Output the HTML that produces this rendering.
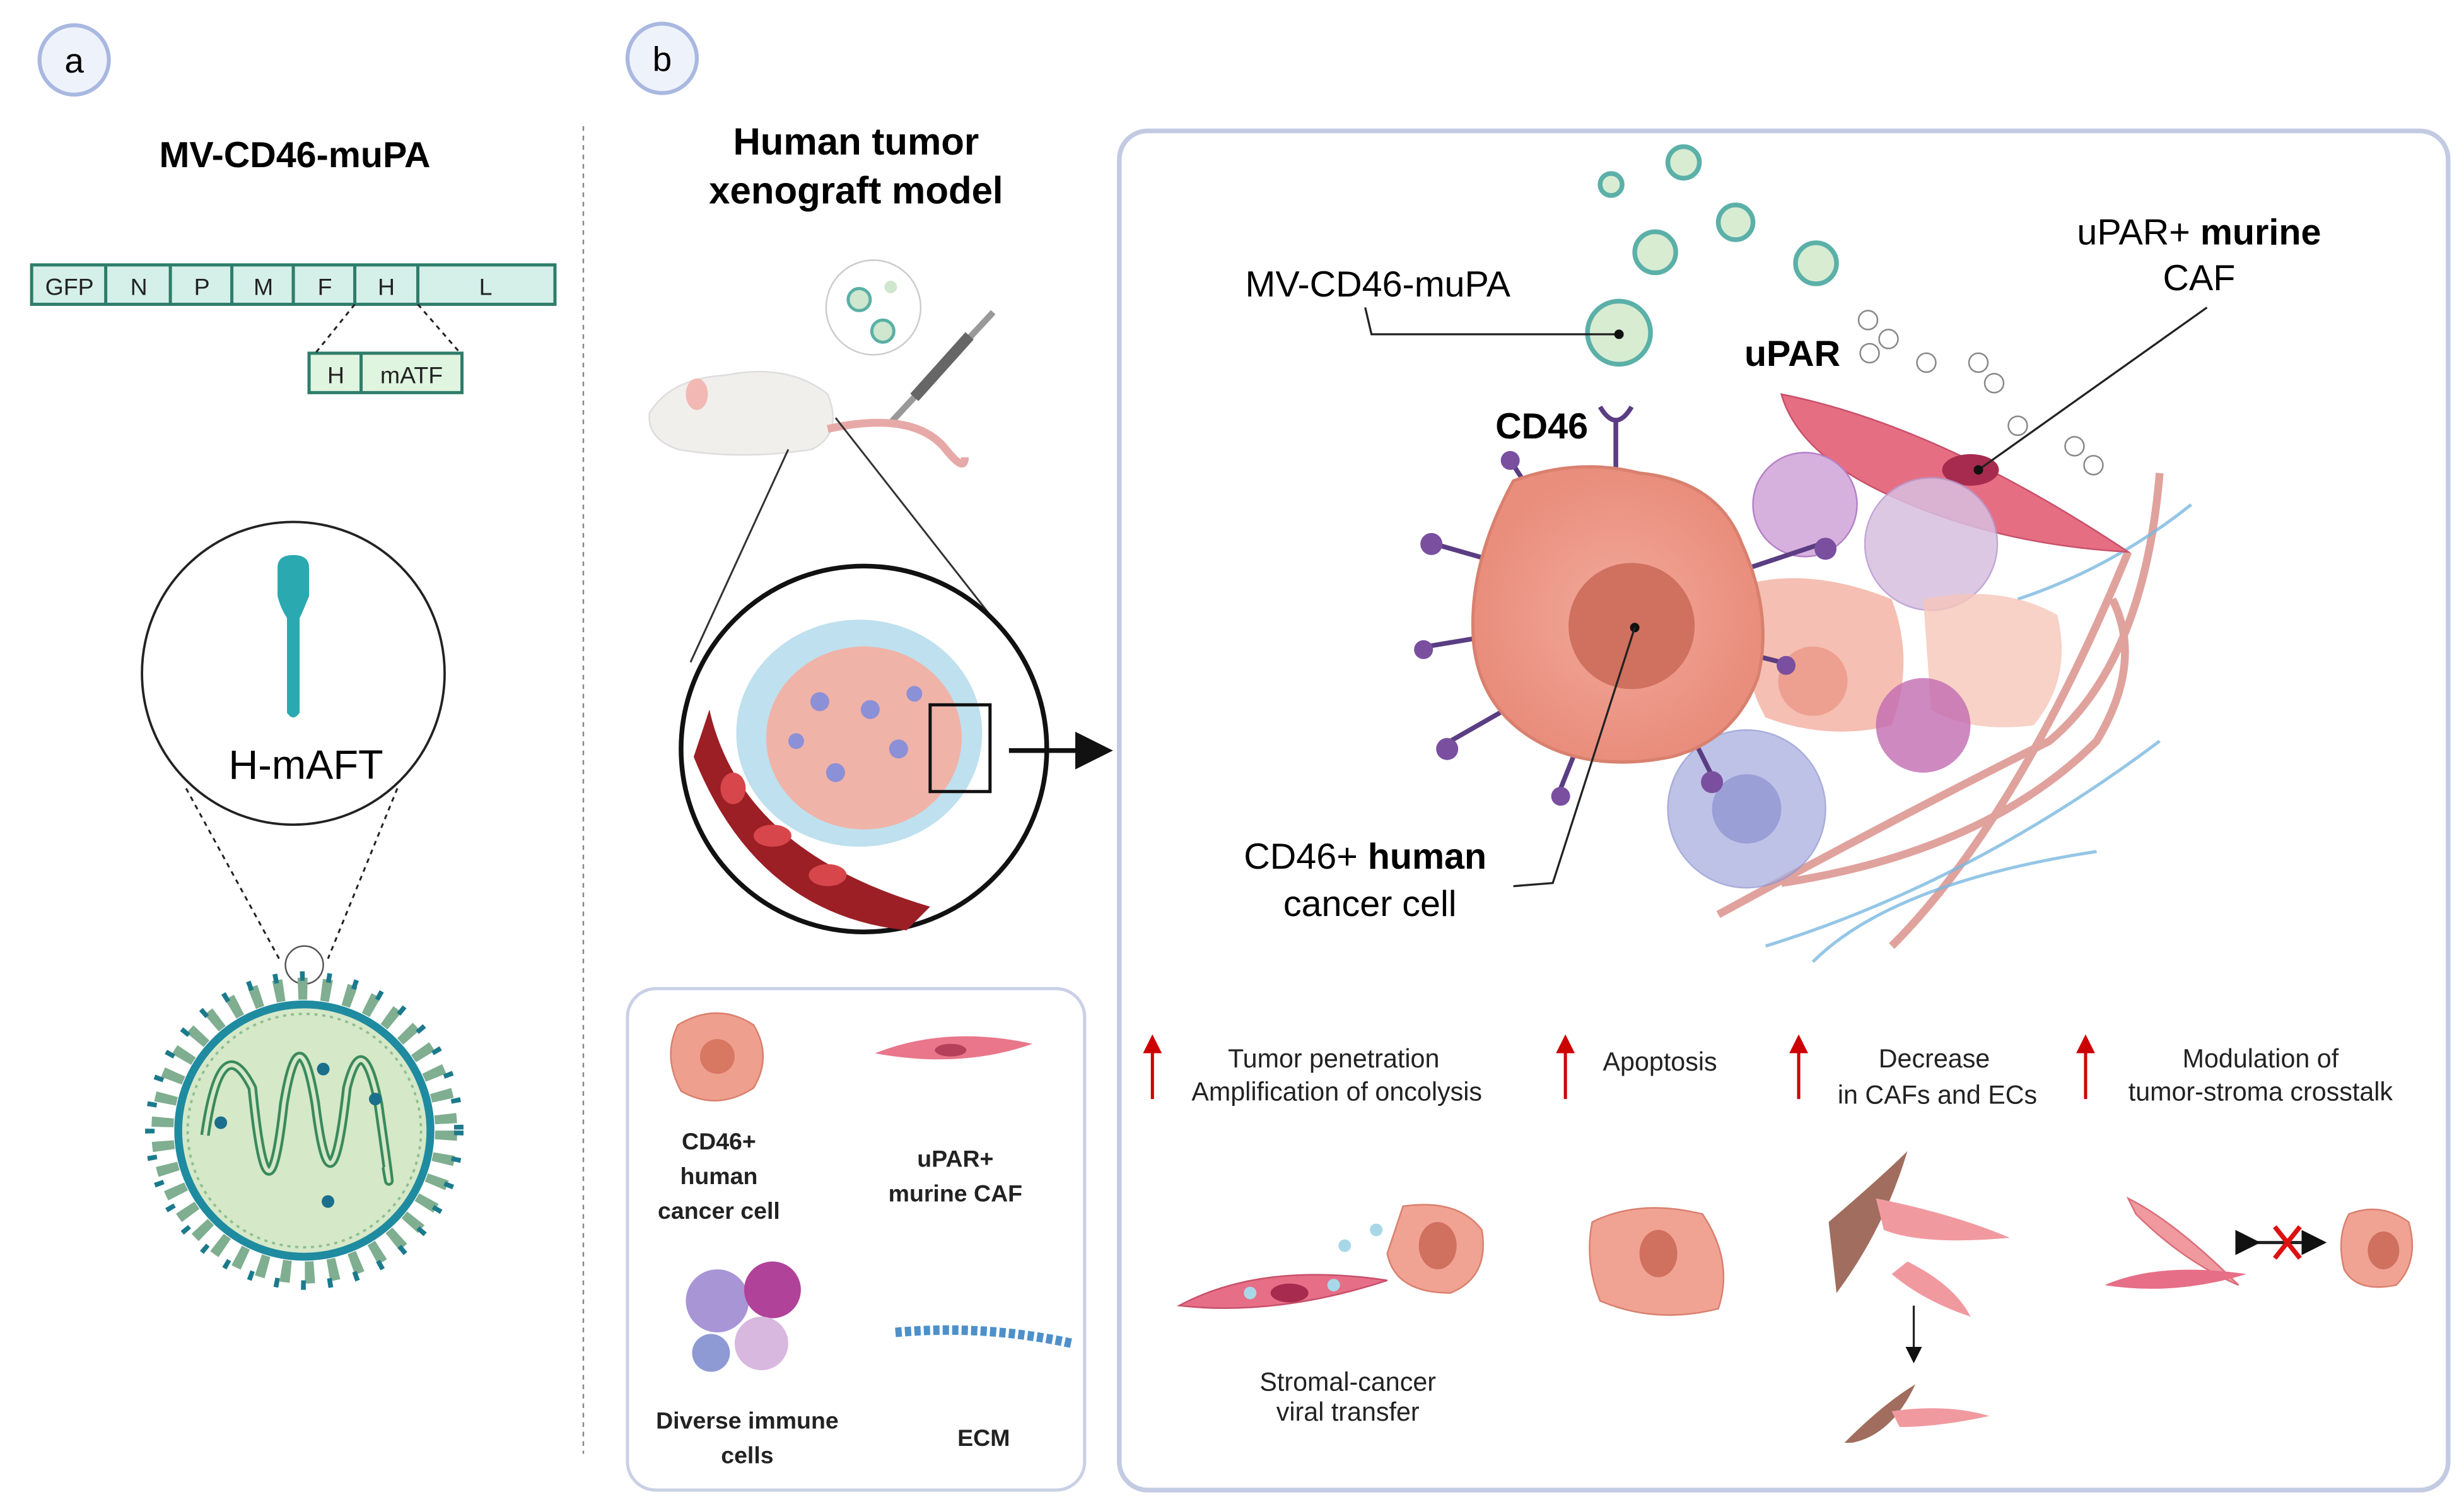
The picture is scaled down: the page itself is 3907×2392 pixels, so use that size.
<!DOCTYPE html>
<html><head><meta charset="utf-8"><style>
html,body{margin:0;padding:0;background:#fff;}
svg{display:block;}
text{font-family:"Liberation Sans",sans-serif;}
</style></head><body>
<svg width="3907" height="2392" viewBox="0 0 1563 957" xmlns="http://www.w3.org/2000/svg">
<defs>
<radialGradient id="cell" cx="50%" cy="50%" r="50%"><stop offset="0" stop-color="#f2a99a"/><stop offset="1" stop-color="#e98d7c"/></radialGradient>
<marker id="ah" markerWidth="8" markerHeight="8" refX="6" refY="4" orient="auto"><path d="M0,0 L8,4 L0,8z" fill="#111"/></marker>
<marker id="rh" markerWidth="6" markerHeight="6" refX="3" refY="3" orient="auto"><path d="M0,0 L6,3 L0,6z" fill="#c00"/></marker>
</defs>
<circle cx="47" cy="38" r="22" fill="#eef2fb" stroke="#a9b8e0" stroke-width="2.5"/>
<text x="47" y="46" font-size="22" text-anchor="middle">a</text>
<circle cx="420" cy="37" r="22" fill="#eef2fb" stroke="#a9b8e0" stroke-width="2.5"/>
<text x="420" y="45" font-size="22" text-anchor="middle">b</text>
<text x="187" y="106" font-size="23" font-weight="bold" text-anchor="middle">MV-CD46-muPA</text>
<g stroke="#2e7d6a" stroke-width="2" fill="#d5efe9">
<rect x="20" y="168" width="332" height="25"/>
<line x1="67" y1="168" x2="67" y2="193"/><line x1="108" y1="168" x2="108" y2="193"/><line x1="147" y1="168" x2="147" y2="193"/><line x1="186" y1="168" x2="186" y2="193"/><line x1="225" y1="168" x2="225" y2="193"/><line x1="265" y1="168" x2="265" y2="193"/>
<rect x="196" y="224" width="97" height="25" fill="#e0f5e0"/><line x1="229" y1="224" x2="229" y2="249"/>
</g>
<g font-size="15" text-anchor="middle" fill="#222">
<text x="44" y="187">GFP</text><text x="88" y="187">N</text><text x="128" y="187">P</text><text x="167" y="187">M</text><text x="206" y="187">F</text><text x="245" y="187">H</text><text x="308" y="187">L</text>
<text x="213" y="243">H</text><text x="261" y="243">mATF</text>
</g>
<g stroke="#222" stroke-dasharray="3,3" stroke-width="1.2" fill="none">
<line x1="225" y1="193" x2="200" y2="224"/><line x1="265" y1="193" x2="292" y2="224"/>
<line x1="118" y1="500" x2="177" y2="608"/><line x1="252" y1="500" x2="208" y2="608"/>
</g>
<circle cx="186" cy="427" r="96" fill="#fff" stroke="#222" stroke-width="1.5"/>
<path d="M176,360 Q176,352 186,352 Q196,352 196,360 L196,378 Q192,388 190,392 L190,452 Q186,458 182,452 L182,392 Q178,386 176,378z" fill="#2aa9b0"/>
<text x="194" y="494" font-size="26" text-anchor="middle">H-mAFT</text>
<circle cx="193" cy="612" r="12" fill="none" stroke="#555" stroke-width="1"/>
<g>
<circle cx="193" cy="717" r="90" fill="none" stroke="#7fae90" stroke-width="14" stroke-dasharray="6,9"/>
<circle cx="193" cy="717" r="98" fill="none" stroke="#1b7a8c" stroke-width="6" stroke-dasharray="3,14"/>
<circle cx="193" cy="717" r="80" fill="#d5e8c8" stroke="#1f8ba0" stroke-width="5"/>
<circle cx="193" cy="717" r="74" fill="none" stroke="#8fbf8f" stroke-width="1.5" stroke-dasharray="2,3"/>
<path d="M130,720 Q140,650 160,690 Q170,790 180,700 Q190,640 200,700 Q210,780 220,690 Q230,650 240,700 Q250,770 245,740" fill="none" stroke="#3a8a5c" stroke-width="6"/>
<path d="M130,720 Q140,650 160,690 Q170,790 180,700 Q190,640 200,700 Q210,780 220,690 Q230,650 240,700 Q250,770 245,740" fill="none" stroke="#d5e8c8" stroke-width="2.5"/>
<circle cx="205" cy="678" r="4" fill="#1b6f8c"/><circle cx="238" cy="697" r="4" fill="#1b6f8c"/><circle cx="208" cy="762" r="4" fill="#1b6f8c"/><circle cx="140" cy="712" r="4" fill="#1b6f8c"/>
</g>
<line x1="370" y1="80" x2="370" y2="922" stroke="#888" stroke-dasharray="3,3" stroke-width="1"/>
<text x="543" y="98" font-size="24" font-weight="bold" text-anchor="middle">Human tumor</text>
<text x="543" y="129" font-size="24" font-weight="bold" text-anchor="middle">xenograft model</text>
<circle cx="554" cy="195" r="30" fill="#fff" stroke="#ccc"/>
<circle cx="545" cy="190" r="7" fill="#cfe6cf" stroke="#5ab0a5" stroke-width="2"/><circle cx="560" cy="210" r="7" fill="#cfe6cf" stroke="#5ab0a5" stroke-width="2"/><circle cx="565" cy="182" r="4" fill="#cfe6cf"/>
<line x1="630" y1="198" x2="565" y2="268" stroke="#999" stroke-width="4"/>
<line x1="615" y1="213" x2="580" y2="252" stroke="#666" stroke-width="7"/>
<path d="M412,262 Q425,240 460,238 Q500,230 525,250 Q535,275 515,285 Q470,292 430,285 Q410,278 412,262z" fill="#f1efec" stroke="#ddd"/>
<ellipse cx="442" cy="250" rx="7" ry="10" fill="#f2b8b4"/>
<path d="M525,272 Q580,260 600,285 Q612,300 612,290" fill="none" stroke="#e7a9a7" stroke-width="5"/>
<line x1="500" y1="285" x2="438" y2="420" stroke="#333" stroke-width="1.2"/>
<line x1="530" y1="265" x2="628" y2="390" stroke="#333" stroke-width="1.2"/>
<circle cx="548" cy="475" r="116" fill="#fff" stroke="#111" stroke-width="3"/>
<ellipse cx="545" cy="465" rx="78" ry="72" fill="#bfe0ee"/>
<ellipse cx="548" cy="468" rx="62" ry="58" fill="#f0b3a8"/>
<g fill="#8c90d6"><circle cx="520" cy="445" r="6"/><circle cx="552" cy="450" r="6"/><circle cx="570" cy="475" r="6"/><circle cx="530" cy="490" r="6"/><circle cx="505" cy="470" r="5"/><circle cx="580" cy="440" r="5"/></g>
<path d="M450,450 Q470,540 590,575 L575,590 Q480,580 440,480z" fill="#9b1f25"/>
<g fill="#d6464a"><ellipse cx="490" cy="530" rx="12" ry="7"/><ellipse cx="525" cy="555" rx="12" ry="7"/><ellipse cx="465" cy="500" rx="8" ry="10"/></g>
<rect x="590" y="447" width="38" height="55" fill="none" stroke="#111" stroke-width="2"/>
<line x1="640" y1="476" x2="700" y2="476" stroke="#111" stroke-width="3" marker-end="url(#ah)"/>
<rect x="398" y="627" width="290" height="318" rx="18" fill="#fff" stroke="#c9d0e6" stroke-width="2"/>
<path d="M430,650 Q455,635 478,650 Q490,670 478,690 Q455,705 432,692 Q420,670 430,650z" fill="#ef9f8e" stroke="#d9806f"/>
<circle cx="455" cy="670" r="11" fill="#d87762"/>
<path d="M555,668 Q600,650 655,662 Q610,678 555,668z" fill="#e9768a"/>
<ellipse cx="603" cy="666" rx="10" ry="4" fill="#b4405a"/>
<circle cx="455" cy="825" r="20" fill="#a895d6"/><circle cx="490" cy="818" r="18" fill="#b0429a"/><circle cx="483" cy="852" r="17" fill="#d8b8de"/><circle cx="451" cy="858" r="12" fill="#8e9ad4"/>
<path d="M568,845 Q625,840 680,852" stroke="#4e90c9" stroke-width="6" fill="none" stroke-dasharray="4,2"/>
<g font-size="15" font-weight="bold" text-anchor="middle" fill="#222">
<text x="456" y="729">CD46+</text><text x="456" y="751">human</text><text x="456" y="773">cancer cell</text>
<text x="606" y="740">uPAR+</text><text x="606" y="762">murine CAF</text>
<text x="474" y="906">Diverse immune</text><text x="474" y="928">cells</text>
<text x="624" y="917">ECM</text>
</g>
<rect x="710" y="83" width="843" height="862" rx="18" fill="#fff" stroke="#c3cbe3" stroke-width="3"/>
<g fill="#d8ecd2" stroke="#5bb0a8" stroke-width="3">
<circle cx="1022" cy="117" r="7"/><circle cx="1068" cy="103" r="10"/><circle cx="1101" cy="141" r="11"/><circle cx="1050" cy="160" r="13"/><circle cx="1152" cy="167" r="13"/><circle cx="1027" cy="211" r="20"/>
</g>
<text x="874" y="188" font-size="23" text-anchor="middle">MV-CD46-muPA</text>
<polyline points="866,195 870,212 1027,212" fill="none" stroke="#222" stroke-width="1.3"/>
<circle cx="1027" cy="212" r="3" fill="#111"/>
<text x="1395" y="155" font-size="23" text-anchor="middle">uPAR+ <tspan font-weight="bold">murine</tspan></text>
<text x="1395" y="184" font-size="23" text-anchor="middle">CAF</text>
<text x="1137" y="232" font-size="23" font-weight="bold" text-anchor="middle">uPAR</text>
<text x="978" y="278" font-size="23" font-weight="bold" text-anchor="middle">CD46</text>
<g fill="none" stroke="#d98b85" stroke-width="5" opacity="0.8">
<path d="M1090,580 Q1200,520 1300,470 Q1360,420 1370,300"/>
<path d="M1130,560 Q1260,540 1330,470 Q1360,420 1340,380"/>
<path d="M1200,600 Q1280,520 1350,350"/>
</g>
<g fill="none" stroke="#7ab8e0" stroke-width="2" opacity="0.8">
<path d="M1120,600 Q1250,560 1370,470"/><path d="M1280,380 Q1340,360 1390,320"/><path d="M1150,610 Q1200,560 1330,540"/>
</g>
<path d="M1130,250 Q1230,270 1350,350 Q1260,345 1190,310 Q1140,285 1130,250z" fill="#e66e82" stroke="#c8506a"/>
<ellipse cx="1250" cy="298" rx="18" ry="10" fill="#a72b4e"/>
<line x1="1400" y1="195" x2="1255" y2="298" stroke="#222" stroke-width="1.3"/><circle cx="1255" cy="298" r="3" fill="#111"/>
<g fill="#fff" stroke="#888" stroke-width="1"><circle cx="1185" cy="203" r="6"/><circle cx="1198" cy="215" r="6"/><circle cx="1186" cy="224" r="6"/><circle cx="1222" cy="230" r="6"/><circle cx="1255" cy="230" r="6"/><circle cx="1265" cy="243" r="6"/><circle cx="1280" cy="270" r="6"/><circle cx="1316" cy="283" r="6"/><circle cx="1328" cy="295" r="6"/></g>
<circle cx="1145" cy="320" r="33" fill="#d7b1dd" stroke="#b580c8"/>
<circle cx="1225" cy="345" r="42" fill="#d8bfe0" stroke="#b89ad0" opacity="0.85"/>
<path d="M1110,370 Q1150,360 1200,380 Q1215,420 1200,460 Q1160,470 1120,455 Q1100,420 1110,370z" fill="#f4b8ab" opacity="0.9"/>
<circle cx="1150" cy="432" r="22" fill="#eea090"/>
<path d="M1220,380 Q1270,370 1305,390 Q1315,430 1290,460 Q1250,465 1225,450z" fill="#f6c6b9" opacity="0.8"/>
<circle cx="1220" cy="460" r="30" fill="#c26bb0" opacity="0.8"/>
<circle cx="1108" cy="513" r="50" fill="#a9aedf" opacity="0.75" stroke="#8d93d0"/>
<circle cx="1108" cy="513" r="22" fill="#9a9fd6"/>
<g stroke="#5a3d82" stroke-width="3" fill="none">
<line x1="1025" y1="265" x2="1025" y2="300"/><path d="M1015,258 Q1025,275 1035,258"/>
<line x1="960" y1="295" x2="975" y2="318"/><line x1="910" y1="345" x2="945" y2="355"/><line x1="905" y1="410" x2="935" y2="405"/><line x1="920" y1="470" x2="955" y2="450"/><line x1="990" y1="500" x2="1000" y2="475"/><line x1="1085" y1="490" x2="1075" y2="470"/><line x1="1130" y1="420" x2="1110" y2="415"/><line x1="1155" y1="345" x2="1110" y2="360"/>
</g>
<g fill="#7a4fa0"><circle cx="958" cy="292" r="6"/><circle cx="908" cy="345" r="7"/><circle cx="903" cy="412" r="6"/><circle cx="918" cy="475" r="7"/><circle cx="990" cy="505" r="6"/><circle cx="1086" cy="496" r="7"/><circle cx="1133" cy="422" r="6"/><circle cx="1158" cy="348" r="7"/></g>
<path d="M960,305 Q1000,290 1040,300 Q1090,305 1105,345 Q1125,390 1115,430 Q1100,470 1060,480 Q1010,490 975,470 Q940,450 935,410 Q930,360 960,305z" fill="url(#cell)" stroke="#d9806f" stroke-width="2"/>
<circle cx="1035" cy="397" r="40" fill="#d0705e"/>
<circle cx="1037" cy="398" r="3" fill="#111"/>
<polyline points="1037,398 985,560 960,562" fill="none" stroke="#222" stroke-width="1.3"/>
<text x="866" y="551" font-size="23" text-anchor="middle">CD46+ <tspan font-weight="bold">human</tspan></text>
<text x="869" y="581" font-size="23" text-anchor="middle">cancer cell</text>
<g stroke="#c00" stroke-width="2" marker-end="url(#rh)">
<line x1="731" y1="697" x2="731" y2="662"/><line x1="993" y1="697" x2="993" y2="662"/><line x1="1141" y1="697" x2="1141" y2="662"/><line x1="1323" y1="697" x2="1323" y2="662"/>
</g>
<g font-size="16.5" text-anchor="middle" fill="#222">
<text x="846" y="677">Tumor penetration</text><text x="848" y="698">Amplification of oncolysis</text>
<text x="1053" y="679">Apoptosis</text>
<text x="1227" y="677">Decrease</text><text x="1229" y="700">in CAFs and ECs</text>
<text x="1434" y="677">Modulation of</text><text x="1434" y="698">tumor-stroma crosstalk</text>
<text x="855" y="882">Stromal-cancer</text><text x="855" y="901">viral transfer</text>
</g>
<path d="M748,828 Q800,800 880,812 Q810,835 748,828z" fill="#e66e87" stroke="#c8506a"/>
<ellipse cx="818" cy="820" rx="12" ry="6" fill="#a72b4e"/>
<path d="M890,765 Q925,760 940,780 Q945,810 920,820 Q885,820 880,795z" fill="#f1a393" stroke="#d9806f"/><ellipse cx="912" cy="790" rx="12" ry="15" fill="#d0705e"/>
<g fill="#a8d8e8"><circle cx="853" cy="790" r="4"/><circle cx="873" cy="780" r="4"/><circle cx="846" cy="815" r="4"/><circle cx="793" cy="820" r="4"/></g>
<path d="M1010,775 Q1040,760 1080,770 Q1100,800 1090,830 Q1050,840 1015,825 Q1005,800 1010,775z" fill="#f1a393" stroke="#d9806f"/><ellipse cx="1052" cy="795" rx="12" ry="15" fill="#d0705e"/>
<path d="M1160,775 Q1195,745 1210,730 Q1195,780 1165,820z" fill="#a06d5e"/>
<path d="M1190,760 Q1240,770 1275,785 Q1220,790 1195,780z" fill="#f09aa0"/>
<path d="M1210,800 Q1240,815 1250,835 Q1220,825 1200,808z" fill="#f09aa0"/>
<line x1="1214" y1="828" x2="1214" y2="862" stroke="#222" stroke-width="1.3" marker-end="url(#ah)"/>
<path d="M1170,915 Q1195,890 1215,878 Q1200,910 1175,915z" fill="#a06d5e"/>
<path d="M1200,895 Q1235,890 1262,898 Q1230,905 1205,905z" fill="#f09aa0"/>
<path d="M1350,760 Q1380,775 1420,815 Q1385,800 1355,770z" fill="#f09aa0" stroke="#d96f7a"/>
<path d="M1335,815 Q1370,800 1425,808 Q1380,822 1335,815z" fill="#e66e87"/>
<line x1="1430" y1="788" x2="1472" y2="788" stroke="#222" stroke-width="2" marker-end="url(#ah)" marker-start="url(#ah)"/>
<path d="M1443,778 L1459,798 M1459,778 L1443,798" stroke="#d11" stroke-width="3"/>
<path d="M1490,770 Q1510,762 1528,775 Q1535,800 1520,815 Q1495,820 1487,805 Q1482,785 1490,770z" fill="#f1a393" stroke="#d9806f"/><ellipse cx="1512" cy="793" rx="10" ry="12" fill="#d0705e"/>
</svg>
</body></html>
